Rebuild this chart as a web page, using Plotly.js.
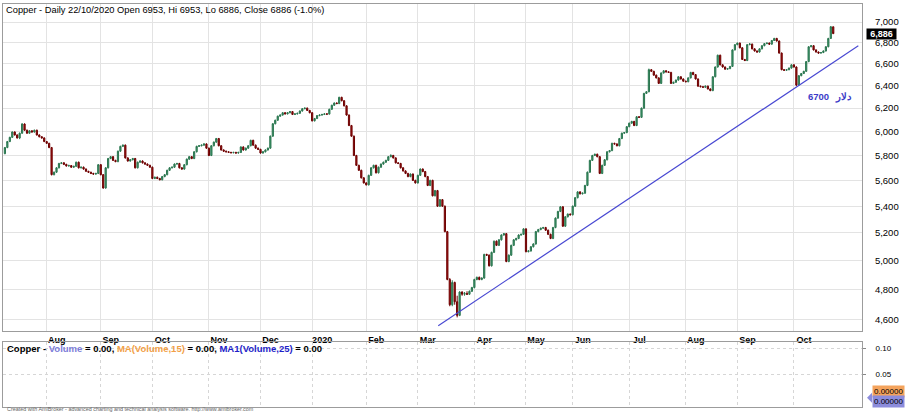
<!DOCTYPE html>
<html>
<head>
<meta charset="utf-8">
<script src="https://cdn.plot.ly/plotly-3.0.1.min.js"></script>
<style>
  html, body { margin: 0; padding: 0; background: #fff; }
  #chart { width: 910px; height: 420px; }
</style>
</head>
<body>
<div id="chart"></div>
<script>
// daily copper candles, 9 Jul 2019 .. 22 Oct 2020 (one row per month)
const opens = [
  5815,5865,5915,5950,5995,5970,5945,5985,6063,6010,5985,6005,5995,6010,5970,5955,5945,
  5915,5900,5865,5645,5665,5700,5735,5740,5728,5715,5718,5705,5712,5745,5700,5705,5690,5672,5665,5655,5650,5655,
  5725,5645,5540,5700,5775,5790,5760,5750,5835,5875,5885,5780,5755,5765,5775,5700,5745,5755,5740,5730,5720,
  5705,5615,5625,5615,5605,5630,5645,5680,5700,5705,5730,5735,5700,5690,5725,5770,5790,5775,5830,5875,5880,5885,5895,
  5860,5800,5880,5910,5940,5880,5845,5835,5830,5825,5822,5825,5820,5825,5870,5845,5860,5880,5925,5885,5860,
  5850,5820,5830,5845,5860,5960,6065,6095,6130,6140,6160,6150,6160,6170,6145,6150,6155,6175,6195,6200,6180,
  6160,6090,6110,6135,6140,6145,6150,6148,6190,6225,6245,6240,6295,6265,6220,6140,6050,5960,5800,5720,5680,5620,
  5580,5565,5640,5700,5720,5660,5705,5730,5745,5760,5790,5800,5780,5740,5735,5700,5675,5655,5630,5650,5600,
  5580,5640,5690,5670,5630,5560,5600,5480,5520,5400,5450,5400,5210,4870,4700,4850,4720,4630,4785,4770,4775,4770,4790,
  4815,4870,4885,4870,4880,5045,5040,4965,5060,5140,5110,5150,5185,5195,4995,5040,5110,5150,5160,5185,5190,
  5230,5065,5070,5100,5120,5210,5225,5235,5240,5220,5190,5160,5240,5310,5360,5395,5250,5320,5340,
  5335,5400,5465,5510,5495,5500,5560,5665,5760,5800,5810,5790,5655,5720,5765,5830,5840,5900,5895,5880,5940,5985,5990,
  6040,6070,6085,6050,6125,6120,6200,6330,6345,6545,6530,6495,6470,6420,6515,6535,6525,6520,6420,6430,6450,6480,6460,
  6440,6435,6470,6520,6500,6460,6395,6390,6385,6395,6370,6355,6480,6570,6680,6590,6570,6550,6555,6575,6730,
  6780,6795,6750,6640,6630,6780,6785,6740,6720,6710,6740,6770,6790,6795,6785,6820,6840,6815,6700,6545,6540,6545,6560,
  6590,6570,6405,6490,6510,6530,6620,6760,6770,6730,6710,6700,6705,6720,6760,6840,6953
];
const highs = [
  5870,5920,5955,6000,6000,5975,5990,6070,6068,6015,6010,6010,6015,6015,5975,5960,5950,
  5920,5905,5870,5670,5705,5740,5745,5745,5732,5725,5722,5716,5750,5750,5710,5710,5695,5676,5668,5660,5660,5730,
  5730,5650,5705,5780,5795,5795,5765,5840,5880,5890,5890,5785,5770,5780,5780,5750,5760,5760,5745,5735,5725,
  5710,5630,5630,5620,5635,5650,5685,5705,5710,5735,5740,5740,5705,5730,5775,5795,5795,5835,5880,5885,5890,5900,5900,
  5865,5885,5915,5945,5945,5885,5850,5840,5835,5830,5830,5830,5830,5875,5875,5865,5885,5930,5930,5890,5865,
  5855,5835,5850,5865,5965,6070,6100,6135,6145,6165,6165,6165,6175,6175,6155,6160,6180,6200,6205,6205,6185,
  6165,6115,6140,6145,6150,6155,6155,6195,6230,6250,6250,6300,6300,6270,6225,6145,6055,5965,5805,5725,5685,5625,
  5585,5645,5705,5725,5725,5710,5735,5750,5765,5795,5810,5805,5785,5745,5740,5705,5680,5660,5655,5655,5605,
  5645,5695,5695,5675,5635,5605,5605,5525,5525,5455,5455,5405,5215,4880,4865,4855,4760,4790,4790,4785,4790,4795,4820,
  4875,4890,4890,4885,5050,5050,5045,5065,5145,5145,5155,5190,5200,5200,5045,5115,5155,5165,5190,5195,5235,
  5235,5075,5105,5125,5215,5230,5240,5245,5245,5225,5195,5245,5315,5365,5400,5400,5325,5345,5345,
  5405,5470,5515,5515,5505,5565,5670,5765,5805,5815,5815,5795,5725,5770,5835,5845,5905,5905,5900,5945,5990,5995,6045,
  6075,6090,6090,6130,6130,6205,6335,6350,6555,6550,6535,6500,6475,6520,6540,6540,6530,6525,6435,6455,6485,6485,6465,
  6445,6475,6525,6525,6505,6465,6400,6395,6400,6400,6375,6485,6575,6685,6685,6595,6575,6560,6580,6735,6785,
  6800,6800,6755,6645,6785,6795,6790,6745,6725,6745,6775,6795,6800,6800,6825,6845,6845,6820,6705,6550,6550,6565,6595,
  6595,6575,6495,6515,6535,6625,6765,6775,6775,6735,6715,6710,6725,6765,6845,6960,6953
];
const lows = [
  5810,5860,5910,5945,5965,5940,5935,5980,6005,5980,5980,5990,5990,5965,5950,5940,5910,
  5895,5860,5640,5640,5660,5695,5730,5722,5710,5710,5700,5700,5708,5695,5695,5685,5668,5660,5650,5645,5645,5650,
  5640,5535,5535,5695,5770,5755,5745,5745,5830,5870,5775,5750,5750,5760,5695,5695,5740,5735,5725,5715,5700,
  5610,5610,5610,5600,5600,5625,5640,5675,5695,5700,5725,5695,5685,5685,5720,5765,5770,5770,5825,5870,5875,5880,5855,
  5795,5795,5875,5905,5875,5840,5830,5825,5820,5818,5818,5815,5815,5820,5840,5840,5855,5875,5880,5855,5845,
  5815,5815,5825,5840,5855,5955,6060,6090,6125,6135,6145,6145,6155,6140,6140,6145,6150,6170,6190,6175,6155,
  6085,6085,6105,6130,6135,6140,6140,6145,6185,6220,6235,6235,6260,6215,6135,6045,5955,5795,5715,5675,5615,5575,
  5560,5560,5635,5695,5655,5655,5700,5725,5740,5755,5785,5775,5735,5730,5695,5670,5650,5625,5625,5595,5575,
  5575,5635,5665,5625,5555,5555,5475,5475,5395,5395,5395,5205,4865,4690,4690,4700,4617,4625,4760,4760,4765,4765,4785,
  4810,4865,4865,4865,4875,5035,4960,4960,5055,5105,5105,5145,5180,4990,4990,5035,5105,5145,5155,5180,5185,
  5060,5060,5065,5095,5115,5205,5220,5230,5215,5185,5155,5155,5235,5305,5355,5245,5245,5315,5330,
  5330,5395,5460,5490,5490,5495,5555,5660,5755,5795,5785,5650,5650,5715,5760,5825,5835,5890,5875,5875,5935,5980,5985,
  6035,6065,6045,6045,6115,6115,6195,6325,6340,6525,6490,6465,6415,6415,6510,6520,6515,6415,6415,6425,6445,6455,6435,
  6430,6430,6465,6495,6455,6390,6385,6380,6380,6365,6350,6350,6475,6565,6585,6565,6545,6545,6550,6570,6725,
  6775,6745,6635,6625,6625,6775,6735,6715,6705,6705,6735,6765,6785,6780,6780,6815,6810,6695,6540,6535,6535,6540,6555,
  6565,6395,6400,6485,6505,6525,6615,6755,6725,6705,6695,6695,6700,6715,6755,6835,6886
];
const closes = [
  5865,5915,5950,5995,5970,5945,5985,6063,6010,5985,6005,5995,6010,5970,5955,5945,5915,
  5900,5865,5645,5665,5700,5735,5740,5728,5715,5718,5705,5712,5745,5700,5705,5690,5672,5665,5655,5650,5655,5725,
  5645,5540,5700,5775,5790,5760,5750,5835,5875,5885,5780,5755,5765,5775,5700,5745,5755,5740,5730,5720,5705,
  5615,5625,5615,5605,5630,5645,5680,5700,5705,5730,5735,5700,5690,5725,5770,5790,5775,5830,5875,5880,5885,5895,5860,
  5800,5880,5910,5940,5880,5845,5835,5830,5825,5822,5825,5820,5825,5870,5845,5860,5880,5925,5885,5860,5850,
  5820,5830,5845,5860,5960,6065,6095,6130,6140,6160,6150,6160,6170,6145,6150,6155,6175,6195,6200,6180,6160,
  6090,6110,6135,6140,6145,6150,6148,6190,6225,6245,6240,6295,6265,6220,6140,6050,5960,5800,5720,5680,5620,5580,
  5565,5640,5700,5720,5660,5705,5730,5745,5760,5790,5800,5780,5740,5735,5700,5675,5655,5630,5650,5600,5580,
  5640,5690,5670,5630,5560,5600,5480,5520,5400,5450,5400,5210,4870,4700,4850,4720,4630,4785,4770,4775,4770,4790,4815,
  4870,4885,4870,4880,5045,5040,4965,5060,5140,5110,5150,5185,5195,4995,5040,5110,5150,5160,5185,5190,5230,
  5065,5070,5100,5120,5210,5225,5235,5240,5220,5190,5160,5240,5310,5360,5395,5250,5320,5340,5335,
  5400,5465,5510,5495,5500,5560,5665,5760,5800,5810,5790,5655,5720,5765,5830,5840,5900,5895,5880,5940,5985,5990,6040,
  6070,6085,6050,6125,6120,6200,6330,6345,6545,6530,6495,6470,6420,6515,6535,6525,6520,6420,6430,6450,6480,6460,6440,
  6435,6470,6520,6500,6460,6395,6390,6385,6395,6370,6355,6480,6570,6680,6590,6570,6550,6555,6575,6730,6780,
  6795,6750,6640,6630,6780,6785,6740,6720,6710,6740,6770,6790,6795,6785,6820,6840,6815,6700,6545,6540,6545,6560,6590,
  6570,6405,6490,6510,6530,6620,6760,6770,6730,6710,6700,6705,6720,6760,6840,6953,6886
];

// first bar of each month (bar index) and its label
const monthStarts = [17, 39, 60, 83, 104, 125, 147, 168, 191, 212, 231, 254, 277, 298, 321];
const monthLabels = ['Aug', 'Sep', 'Oct', 'Nov', 'Dec', '2020', 'Feb', 'Mar', 'Apr', 'May', 'Jun', 'Jul', 'Aug', 'Sep', 'Oct'];

const priceTicks = [4600, 4800, 5000, 5200, 5400, 5600, 5800, 6000, 6200, 6400, 6600, 6800, 7000];
const volTicks = [0.05, 0.10];

// hand-drawn support line (bar index, price)
const trendX = [176.3, 347.2];
const trendY = [4563, 6770];
// note beside the line: number, then the Persian word to its right
const noteValue = '6700';
const noteWord = 'دلار';

const volumeLast = [0];
const maLast = 0;
const lastClose = 6886;

const FONT = 'Liberation Sans, Arial, sans-serif';
const idx = opens.map((_, i) => i);
const lastIdx = idx.length - 1;

const candles = {
  type: 'candlestick',
  x: idx, open: opens, high: highs, low: lows, close: closes,
  xaxis: 'x', yaxis: 'y',
  increasing: {line: {color: '#2b7650', width: 1}, fillcolor: '#3d9b6c'},
  decreasing: {line: {color: '#6e0000', width: 1}, fillcolor: '#a81212'},
  whiskerwidth: 0,
  hoverinfo: 'skip'
};

const trend = {
  type: 'scatter', mode: 'lines',
  x: trendX, y: trendY,
  xaxis: 'x', yaxis: 'y',
  line: {color: '#4848d2', width: 1.2},
  hoverinfo: 'skip'
};

const vol = {
  type: 'scatter', mode: 'markers',
  x: [lastIdx], y: volumeLast,
  xaxis: 'x2', yaxis: 'y2',
  marker: {size: 1, opacity: 0},
  hoverinfo: 'skip'
};

const gridC = '#e3e3e3';
const frameC = '#9c9c9c';
const noteFont = {family: FONT, size: 9.5, color: '#3c3cc8', weight: 'bold'};
const purple = '#8c8cdc';

const layout = {
  width: 910, height: 420,
  margin: {l: 3, r: 48, t: 4, b: 13},
  paper_bgcolor: '#fff', plot_bgcolor: '#fff',
  showlegend: false,
  hovermode: false,
  font: {family: FONT, size: 9, color: '#000'},
  title: {
    text: 'Copper - Daily 22/10/2020 Open 6953, Hi 6953, Lo 6886, Close 6886 (-1.0%)',
    xref: 'container', x: 0.0066, xanchor: 'left',
    yref: 'container', y: 0.976, yanchor: 'middle',
    font: {family: FONT, size: 9.3, color: '#000'}
  },
  xaxis: {
    domain: [0, 1], anchor: 'y',
    range: [-0.77, 348.7],
    tickmode: 'array', tickvals: monthStarts, ticktext: monthLabels,
    ticks: '', ticklabelshift: 10,
    tickfont: {family: FONT, size: 9, color: '#000', weight: 'bold'},
    showgrid: true, gridcolor: gridC, gridwidth: 1,
    showline: true, linecolor: frameC, linewidth: 1, mirror: true,
    zeroline: false,
    rangeslider: {visible: false}
  },
  yaxis: {
    domain: [0.1886, 1], anchor: 'x',
    type: 'log', range: [3.656027, 3.856112],
    side: 'right',
    tickmode: 'array', tickvals: priceTicks,
    ticktext: priceTicks.map(v => v.toLocaleString('en-US')),
    ticks: '', ticklabelstandoff: 10,
    tickfont: {family: FONT, size: 9.5, color: '#000'},
    showgrid: true, gridcolor: gridC, gridwidth: 1,
    showline: true, linecolor: frameC, linewidth: 1, mirror: true,
    zeroline: false
  },
  xaxis2: {
    domain: [0, 1], anchor: 'y2', matches: 'x',
    tickmode: 'array', tickvals: monthStarts,
    showticklabels: false, ticks: '',
    showgrid: true, gridcolor: '#d6d6d6', griddash: 'dot', gridwidth: 1,
    showline: true, linecolor: frameC, linewidth: 1, mirror: true,
    zeroline: false
  },
  yaxis2: {
    domain: [0, 0.1613], anchor: 'x2',
    range: [-0.0142, 0.1123],
    side: 'right',
    tickmode: 'array', tickvals: volTicks, ticktext: volTicks.map(v => v.toFixed(2)),
    ticks: 'outside', ticklen: 3, tickcolor: '#888', ticklabelstandoff: 8,
    tickfont: {family: FONT, size: 8, color: '#000'},
    showgrid: true, gridcolor: '#d6d6d6', griddash: 'dot', gridwidth: 1,
    showline: true, linecolor: frameC, linewidth: 1, mirror: true,
    zeroline: false
  },
  // pointer tips of the last-value badges
  shapes: [
    {
      type: 'path', layer: 'above',
      xref: 'paper', xsizemode: 'pixel', xanchor: 1,
      yref: 'y', ysizemode: 'pixel', yanchor: Math.log10(lastClose),
      path: 'M0,0 L5,5 L5,-5 Z',
      fillcolor: '#000', line: {width: 0}
    },
    {
      type: 'path', layer: 'above',
      xref: 'paper', xsizemode: 'pixel', xanchor: 1,
      yref: 'y2', ysizemode: 'pixel', yanchor: volumeLast[0],
      path: 'M5,2 L10,7 L10,-3 Z',
      fillcolor: purple, line: {width: 0}
    }
  ],
  annotations: [
    {
      xref: 'paper', x: 1, xanchor: 'left', xshift: 4,
      yref: 'y', y: Math.log10(lastClose), yanchor: 'middle',
      text: lastClose.toLocaleString('en-US'), showarrow: false,
      bgcolor: '#000', borderpad: 0, width: 29, height: 10,
      font: {family: FONT, size: 9, color: '#fff', weight: 'bold'}
    },
    {
      xref: 'x', x: 335.6, xanchor: 'right', xshift: 1,
      yref: 'y', y: Math.log10(6300), yanchor: 'middle',
      text: noteValue, showarrow: false,
      font: noteFont
    },
    {
      xref: 'x', x: 335.6, xanchor: 'left', xshift: 3,
      yref: 'y', y: Math.log10(6300), yanchor: 'middle',
      text: noteWord, showarrow: false,
      font: noteFont
    },
    {
      xref: 'paper', x: 0, xanchor: 'left', xshift: 2,
      yref: 'paper', y: 0.1464, yanchor: 'middle',
      showarrow: false,
      text: 'Copper - <span style="color:#7c7cd8">Volume</span> = 0.00, ' +
            '<span style="color:#f2a046">MA(Volume,15)</span> = 0.00, ' +
            '<span style="color:#1e1ec8">MA1(Volume,25)</span> = 0.00',
      font: {family: FONT, size: 9.5, color: '#000', weight: 'bold'}
    },
    {
      xref: 'paper', x: 1, xanchor: 'left', xshift: 10,
      yref: 'y2', y: maLast, yanchor: 'middle', yshift: 8,
      text: maLast.toFixed(5), showarrow: false,
      bgcolor: '#f4a35c', borderpad: 1,
      font: {family: FONT, size: 8, color: '#000'}
    },
    {
      xref: 'paper', x: 1, xanchor: 'left', xshift: 10,
      yref: 'y2', y: volumeLast[0], yanchor: 'middle', yshift: -2,
      text: volumeLast[0].toFixed(5), showarrow: false,
      bgcolor: purple, borderpad: 1,
      font: {family: FONT, size: 8, color: '#000'}
    },
    {
      xref: 'paper', x: 0, xanchor: 'left', xshift: 2,
      yref: 'paper', y: -0.006, yanchor: 'middle',
      showarrow: false,
      text: 'Created with AmiBroker - advanced charting and technical analysis software. http://www.amibroker.com',
      font: {family: FONT, size: 5.4, color: '#666'}
    }
  ]
};

Plotly.newPlot('chart', [candles, trend, vol], layout, {staticPlot: true, displayModeBar: false});
</script>
</body>
</html>
